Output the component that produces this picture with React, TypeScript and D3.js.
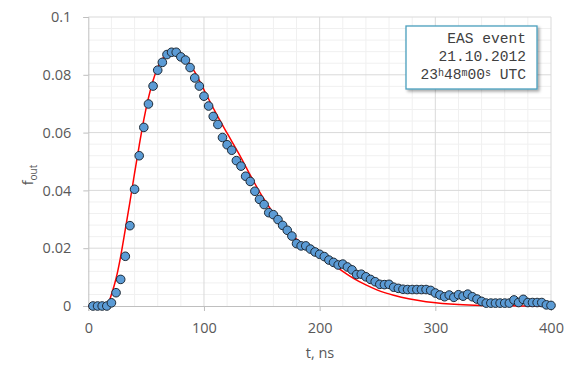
import React, { useEffect, useRef } from 'react';
import * as d3 from 'd3';

// measured pulse, one point every 4 ns
const times = [
    4, 8, 12, 16, 20, 24, 28, 32, 36, 40, 44, 48, 52, 56, 60, 64, 68, 72, 76, 80,
    84, 88, 92, 96, 100, 104, 108, 112, 116, 120, 124, 128, 132, 136, 140, 144, 148, 152, 156, 160,
    164, 168, 172, 176, 180, 184, 188, 192, 196, 200, 204, 208, 212, 216, 220, 224, 228, 232, 236, 240,
    244, 248, 252, 256, 260, 264, 268, 272, 276, 280, 284, 288, 292, 296, 300, 304, 308, 312, 316, 320,
    324, 328, 332, 336, 340, 344, 348, 352, 356, 360, 364, 368, 372, 376, 380, 384, 388, 392, 396, 400
];
const fout = [
    0, 0, 0, 0, 0.0011, 0.0046, 0.0092, 0.0172, 0.0278, 0.0404, 0.052, 0.0618, 0.0699, 0.0761, 0.0816, 0.0843, 0.087, 0.0878, 0.0878, 0.0862,
    0.0851, 0.0825, 0.0789, 0.0761, 0.0726, 0.0692, 0.0656, 0.0628, 0.0583, 0.0558, 0.0539, 0.0503, 0.0484, 0.0449, 0.0431, 0.0397, 0.0369, 0.0351, 0.0323, 0.0316,
    0.0299, 0.0279, 0.0262, 0.0242, 0.0216, 0.0208, 0.0208, 0.0197, 0.0187, 0.0179, 0.0171, 0.0159, 0.0151, 0.0142, 0.0145, 0.0135, 0.0125, 0.0109, 0.011, 0.0101,
    0.0092, 0.0084, 0.0075, 0.0074, 0.0075, 0.0065, 0.0061, 0.0058, 0.0057, 0.0057, 0.0057, 0.0057, 0.0057, 0.0054, 0.0045, 0.0038, 0.0032, 0.0038, 0.003, 0.0039,
    0.0034, 0.0041, 0.0032, 0.0024, 0.0016, 0.001, 0.001, 0.001, 0.001, 0.001, 0.001, 0.0021, 0.0012, 0.0023, 0.0012, 0.0012, 0.0012, 0.0012, 0.0004, 0.0002
];

// model curve (red)
const fitTimes = [
    0, 16, 20, 24, 28, 32, 36, 40, 44, 48, 52, 56, 60, 64, 68, 72, 76, 80, 84, 88,
    92, 96, 100, 110, 120, 130, 140, 150, 160, 170, 180, 190, 200, 210, 220, 230, 240, 250, 264, 278,
    292, 306, 320, 340, 360, 380, 400
];
const fitValues = [
    0, 0, 0.004, 0.0095, 0.0172, 0.0265, 0.036, 0.046, 0.0555, 0.0645, 0.072, 0.078, 0.0825, 0.0855, 0.0873, 0.0882, 0.0883, 0.0875, 0.0857, 0.0835,
    0.081, 0.078, 0.0748, 0.067, 0.0598, 0.0528, 0.0453, 0.0382, 0.0322, 0.0272, 0.0232, 0.0202, 0.0177, 0.015, 0.012, 0.0094, 0.0073, 0.0055, 0.0037, 0.0024,
    0.0015, 0.0009, 0.0005, 0.0002, 0.0001, 0, 0
];

const xTicks = [0, 100, 200, 300, 400];
const yTicks = [0, 0.02, 0.04, 0.06, 0.08, 0.1];
const yTickLabels = ['0', '0.02', '0.04', '0.06', '0.08', '0.1'];
const eventLines = ['EAS event', '21.10.2012'];

const FONT = '"Open Sans", sans-serif';

const App = () => {
    const svgRef = useRef(null);

    useEffect(() => {
        const width = 582;
        const height = 380;
        const root = d3.select(svgRef.current)
            .attr('width', width)
            .attr('height', height);
        root.selectAll('*').remove();

        const x = d3.scaleLinear().domain([0, 400]).range([88.3, 551]);
        const y = d3.scaleLinear().domain([0, 0.1]).range([306, 17]);

        const defs = root.append('defs');
        const shadow = defs.append('filter')
            .attr('id', 'boxShadow')
            .attr('x', '-10%').attr('y', '-10%')
            .attr('width', '130%').attr('height', '140%');
        shadow.append('feDropShadow')
            .attr('dx', 2).attr('dy', 2)
            .attr('stdDeviation', 1.5)
            .attr('flood-color', '#000')
            .attr('flood-opacity', 0.35);

        // minor grid
        const minorX = d3.range(20, 400, 20).filter(v => v % 100 !== 0);
        const minorY = d3.range(1, 25).map(i => i * 0.004).filter((v, i) => (i + 1) % 5 !== 0);
        root.append('g').selectAll('line.mx')
            .data(minorX).enter().append('line')
            .attr('x1', d => x(d)).attr('x2', d => x(d))
            .attr('y1', y(0)).attr('y2', y(0.1))
            .attr('stroke', '#f0f0f0').attr('stroke-width', 1);
        root.append('g').selectAll('line.my')
            .data(minorY).enter().append('line')
            .attr('x1', x(0)).attr('x2', x(400))
            .attr('y1', d => y(d)).attr('y2', d => y(d))
            .attr('stroke', '#f0f0f0').attr('stroke-width', 1);

        // major grid
        root.append('g').selectAll('line')
            .data(xTicks.slice(1)).enter().append('line')
            .attr('x1', d => x(d)).attr('x2', d => x(d))
            .attr('y1', y(0)).attr('y2', y(0.1))
            .attr('stroke', '#d9d9d9').attr('stroke-width', 1);
        root.append('g').selectAll('line')
            .data(yTicks.slice(1)).enter().append('line')
            .attr('x1', x(0)).attr('x2', x(400))
            .attr('y1', d => y(d)).attr('y2', d => y(d))
            .attr('stroke', '#d9d9d9').attr('stroke-width', 1);

        // axes
        const xAxis = root.append('g')
            .attr('transform', `translate(0, ${y(0)})`)
            .call(d3.axisBottom(x).tickValues(xTicks).tickSize(5).tickPadding(12).tickFormat(d3.format('d')));
        const yAxis = root.append('g')
            .attr('transform', `translate(${x(0)}, 0)`)
            .call(d3.axisLeft(y).tickValues(yTicks).tickSize(5).tickPadding(12).tickFormat((d, i) => yTickLabels[i]));
        [xAxis, yAxis].forEach(a => {
            a.select('.domain').attr('stroke', '#bfbfbf');
            a.selectAll('.tick line').attr('stroke', '#bfbfbf');
            a.selectAll('.tick text')
                .attr('fill', '#595959')
                .style('font-family', FONT)
                .style('font-size', '14.5px');
        });

        // model curve
        const fit = fitTimes.map((t, i) => ({ t, v: fitValues[i] }));
        root.append('path')
            .datum(fit)
            .attr('fill', 'none')
            .attr('stroke', '#ff0000')
            .attr('stroke-width', 1.5)
            .attr('d', d3.line().x(d => x(d.t)).y(d => y(d.v)).curve(d3.curveMonotoneX));

        // data points
        const pts = times.map((t, i) => ({ t, v: fout[i] }));
        root.append('g').selectAll('circle')
            .data(pts).enter().append('circle')
            .attr('cx', d => x(d.t))
            .attr('cy', d => y(d.v))
            .attr('r', 4.3)
            .attr('fill', '#5b9bd5')
            .attr('stroke', '#1e2a36')
            .attr('stroke-width', 1);

        // axis titles
        root.append('text')
            .attr('x', 320).attr('y', 358)
            .attr('text-anchor', 'middle')
            .attr('fill', '#595959')
            .style('font-family', FONT)
            .style('font-size', '14.5px')
            .text('t, ns');

        const yTitle = root.append('text')
            .attr('transform', 'translate(33, 175) rotate(-90)')
            .attr('text-anchor', 'middle')
            .attr('fill', '#595959')
            .style('font-family', FONT)
            .style('font-size', '14.5px');
        yTitle.append('tspan').text('f');
        yTitle.append('tspan').attr('dy', 4).style('font-size', '10px').text('out');

        // event box
        root.append('rect')
            .attr('x', 406).attr('y', 26)
            .attr('width', 131).attr('height', 63)
            .attr('fill', '#ffffff')
            .attr('stroke', '#4a9fbe')
            .attr('stroke-width', 1.3)
            .attr('filter', 'url(#boxShadow)');

        const mono = { family: '"Liberation Mono", monospace', size: '14.6px' };
        eventLines.forEach((line, i) => {
            root.append('text')
                .attr('x', 526).attr('y', 43 + i * 18)
                .attr('text-anchor', 'end')
                .attr('fill', '#404040')
                .style('font-family', mono.family)
                .style('font-size', mono.size)
                .text(line);
        });
        const timeText = root.append('text')
            .attr('x', 526).attr('y', 79)
            .attr('text-anchor', 'end')
            .attr('fill', '#404040')
            .style('font-family', mono.family)
            .style('font-size', mono.size);
        const parts = [['23', false], ['h', true], ['48', false], ['m', true], ['00', false], ['s', true], [' UTC', false]];
        parts.forEach(([txt, sup]) => {
            timeText.append('tspan')
                .attr('baseline-shift', sup ? '35%' : null)
                .style('font-size', sup ? '10px' : null)
                .text(txt);
        });
    }, []);

    return (
        <svg ref={svgRef} style={{ position: 'absolute', left: 0, top: 0 }}></svg>
    );
};

export default App;
